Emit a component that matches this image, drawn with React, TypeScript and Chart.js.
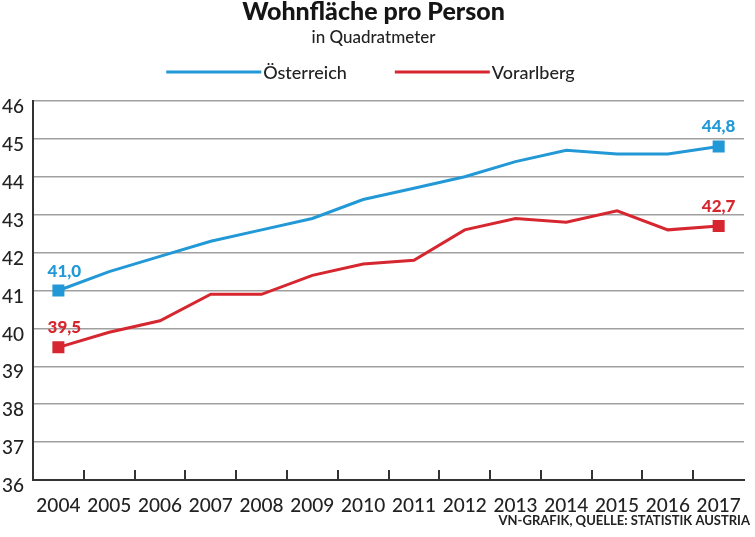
import { useEffect, useRef } from 'react';
import { Chart, registerables } from 'chart.js';

Chart.register(...registerables);

// Wohnfläche pro Person in m², Österreich vs. Vorarlberg
const years = ['2004', '2005', '2006', '2007', '2008', '2009', '2010', '2011', '2012', '2013', '2014', '2015', '2016', '2017'];
const oesterreich = [41.0, 41.5, 41.9, 42.3, 42.6, 42.9, 43.4, 43.7, 44.0, 44.4, 44.7, 44.6, 44.6, 44.8];
const vorarlberg = [39.5, 39.9, 40.2, 40.9, 40.9, 41.4, 41.7, 41.8, 42.6, 42.9, 42.8, 43.1, 42.6, 42.7];
const seriesNames = ['Österreich', 'Vorarlberg'];
const yMin = 36;
const yMax = 46;

const titleText = 'Wohnfläche pro Person';
const subtitleText = 'in Quadratmeter';
const sourceText = 'VN-GRAFIK, QUELLE: STATISTIK AUSTRIA';

const BLUE = '#2299d6';
const RED = '#d6262f';
const FONT = 'Lato, "Open Sans", sans-serif';
const TEXT = '#222222';

const isEnd = (i: number, n: number) => i === 0 || i === n - 1;

// Title, subtitle, legend and source line
const headerPlugin = {
  id: 'header',
  afterDraw(chart: any) {
    const { ctx, width, height } = chart;
    const cx = width / 2 - 4;
    ctx.save();
    ctx.fillStyle = '#151515';
    ctx.textAlign = 'center';
    ctx.textBaseline = 'alphabetic';
    ctx.font = `900 25px ${FONT}`;
    ctx.fillText(titleText, cx, 20);
    ctx.fillStyle = TEXT;
    ctx.font = `500 17px ${FONT}`;
    ctx.fillText(subtitleText, cx, 43);

    // legend: long line running straight into the label
    ctx.font = `500 18px ${FONT}`;
    const lineLen = 95;
    const gap = 2;
    const spacing = 48;
    const colors = [BLUE, RED];
    const widths = seriesNames.map((s) => ctx.measureText(s).width);
    const total = widths.reduce((a, w) => a + lineLen + gap + w, 0) + spacing * (seriesNames.length - 1);
    let x = cx - 3 - total / 2;
    ctx.textAlign = 'left';
    seriesNames.forEach((name, i) => {
      ctx.strokeStyle = colors[i];
      ctx.lineWidth = 3;
      ctx.beginPath();
      ctx.moveTo(x, 72);
      ctx.lineTo(x + lineLen, 72);
      ctx.stroke();
      ctx.fillStyle = TEXT;
      ctx.fillText(name, x + lineLen + gap, 79);
      x += lineLen + gap + widths[i] + spacing;
    });

    ctx.font = `700 13px ${FONT}`;
    ctx.textAlign = 'right';
    ctx.fillStyle = TEXT;
    ctx.fillText(sourceText, width - 5, height - 12);
    ctx.restore();
  },
};

// Short upward tick marks between the year categories
const innerTicksPlugin = {
  id: 'innerTicks',
  afterDraw(chart: any) {
    const { ctx, chartArea } = chart;
    const xs = chart.scales.x;
    ctx.save();
    ctx.strokeStyle = '#333333';
    ctx.lineWidth = 2;
    for (let i = 1; i < years.length; i++) {
      const px = Math.round((xs.getPixelForValue(i - 1) + xs.getPixelForValue(i)) / 2);
      ctx.beginPath();
      ctx.moveTo(px, chartArea.bottom);
      ctx.lineTo(px, chartArea.bottom - 10);
      ctx.stroke();
    }
    ctx.restore();
  },
};

// Value labels above the first and last markers
const endLabelsPlugin = {
  id: 'endLabels',
  afterDatasetsDraw(chart: any) {
    const { ctx } = chart;
    ctx.save();
    ctx.font = `900 17px ${FONT}`;
    ctx.textAlign = 'center';
    ctx.textBaseline = 'alphabetic';
    chart.data.datasets.forEach((ds: any, di: number) => {
      const meta = chart.getDatasetMeta(di);
      const n = ds.data.length;
      [0, n - 1].forEach((i) => {
        const pt = meta.data[i];
        const label = Number(ds.data[i]).toFixed(1).replace('.', ',');
        ctx.fillStyle = ds.borderColor;
        ctx.fillText(label, pt.x + (i === 0 ? 6 : 0), pt.y - 14);
      });
    });
    ctx.restore();
  },
};

export default function App() {
  const canvasRef = useRef<HTMLCanvasElement | null>(null);

  useEffect(() => {
    if (!canvasRef.current) return;
    const chart = new Chart(canvasRef.current, {
      type: 'line',
      data: {
        labels: years,
        datasets: [
          {
            label: seriesNames[0],
            data: oesterreich,
            borderColor: BLUE,
            backgroundColor: BLUE,
            borderWidth: 3,
            tension: 0,
            pointStyle: 'rect',
            pointRadius: (c: any) => (isEnd(c.dataIndex, oesterreich.length) ? 8.5 : 0),
            pointHoverRadius: 0,
            pointBorderWidth: 0,
          },
          {
            label: seriesNames[1],
            data: vorarlberg,
            borderColor: RED,
            backgroundColor: RED,
            borderWidth: 3,
            tension: 0,
            pointStyle: 'rect',
            pointRadius: (c: any) => (isEnd(c.dataIndex, vorarlberg.length) ? 8.5 : 0),
            pointHoverRadius: 0,
            pointBorderWidth: 0,
          },
        ],
      },
      options: {
        animation: false,
        responsive: true,
        maintainAspectRatio: false,
        events: [],
        layout: { padding: { top: 101, right: 7, bottom: 0, left: 2 } },
        plugins: {
          legend: { display: false },
          title: { display: false },
          tooltip: { enabled: false },
        },
        scales: {
          x: {
            type: 'category',
            offset: true,
            grid: { display: true, drawOnChartArea: false, drawTicks: false },
            border: { display: true, color: '#333333', width: 2 },
            ticks: {
              color: TEXT,
              font: { family: FONT, size: 19, weight: '500' },
              padding: 14,
              maxRotation: 0,
              autoSkip: false,
            },
            afterFit: (scale: any) => {
              scale.height = 57;
            },
          },
          y: {
            min: yMin,
            max: yMax,
            grid: { color: '#a0a0a0', lineWidth: 1.5, drawTicks: false },
            border: { display: true, color: '#333333', width: 2 },
            ticks: {
              stepSize: 1,
              color: TEXT,
              font: { family: FONT, size: 19, weight: '500' },
              crossAlign: 'far',
              labelOffset: 6,
              padding: 0,
            },
            afterFit: (scale: any) => {
              scale.width = 31;
            },
          },
        },
      },
      plugins: [headerPlugin, innerTicksPlugin, endLabelsPlugin],
    } as any);
    return () => chart.destroy();
  }, []);

  return (
    <div style={{ position: 'fixed', left: 0, top: 0, width: 755, height: 537, background: '#ffffff' }}>
      <canvas ref={canvasRef} />
    </div>
  );
}
